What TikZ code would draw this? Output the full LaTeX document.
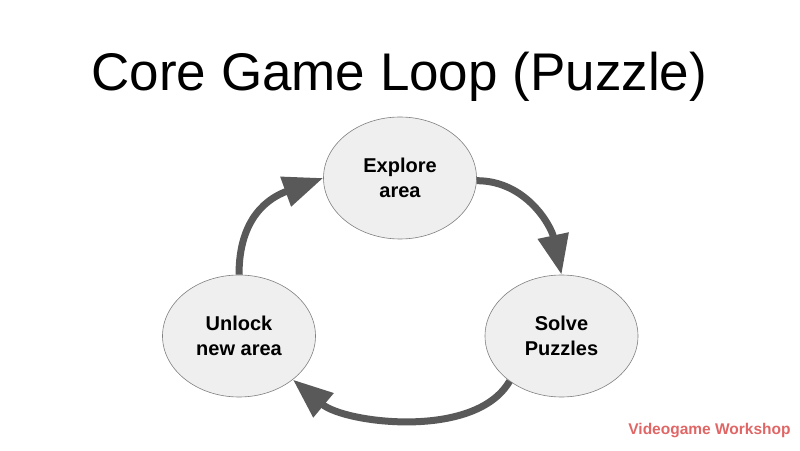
\documentclass[tikz,border=0pt]{standalone}
\usepackage{fontspec}
\setmainfont{Liberation Sans}
\usepackage{tikz}
\usetikzlibrary{arrows.meta}
\usetikzlibrary{shapes.geometric}
\definecolor{stagefill}{HTML}{EFEFEF}
\definecolor{stageline}{HTML}{7F7F7F}
\definecolor{arrowgray}{HTML}{595959}
\definecolor{brandred}{HTML}{E06666}
\tikzset{
  stage/.style={ellipse, draw=stageline, line width=0.6pt, fill=stagefill,
    minimum width=153pt, minimum height=122pt, inner sep=0pt, align=center,
    font=\bfseries\fontsize{20}{25.5}\selectfont},
  cyclearrow/.style={draw=arrowgray, line width=7pt,
    -{Triangle[length=40pt,width=30pt]}}
}

\begin{document}
\begin{tikzpicture}[x=1pt,y=1pt]
          \useasboundingbox (0,0) rectangle (800,450);
          % title
          \node[anchor=base, inner sep=0pt] (title) at (399.3,359.3) {\fontsize{53}{60}\selectfont Core Game Loop (Puzzle)};
          % Explore area
          \node[stage] (explore) at (400,272) {Explore\\area};
          % Solve Puzzles
          \node[stage] (solve) at (561.5,114) {Solve\\Puzzles};
          % Unlock new area
          \node[stage] (unlock) at (239,114) {Unlock\\new area};
          % arrow between explore and solve
          \draw [cyclearrow] (explore.-2) to[out=0,in=102] (solve.north);
          % arrow between solve and unlock
          \draw [cyclearrow] (solve.221) to[out=240,in=-40,looseness=0.8] (unlock.-39);
          % arrow between unlock and explore
          \draw [cyclearrow] (unlock.north) to[out=90,in=200,looseness=1.15] (explore.west);
          % footer
          \node[anchor=base, inner sep=0pt, text=brandred] (footer) at (709.5,16) {\bfseries\fontsize{15.5}{18}\selectfont Videogame Workshop};
        \end{tikzpicture}
\end{document}
